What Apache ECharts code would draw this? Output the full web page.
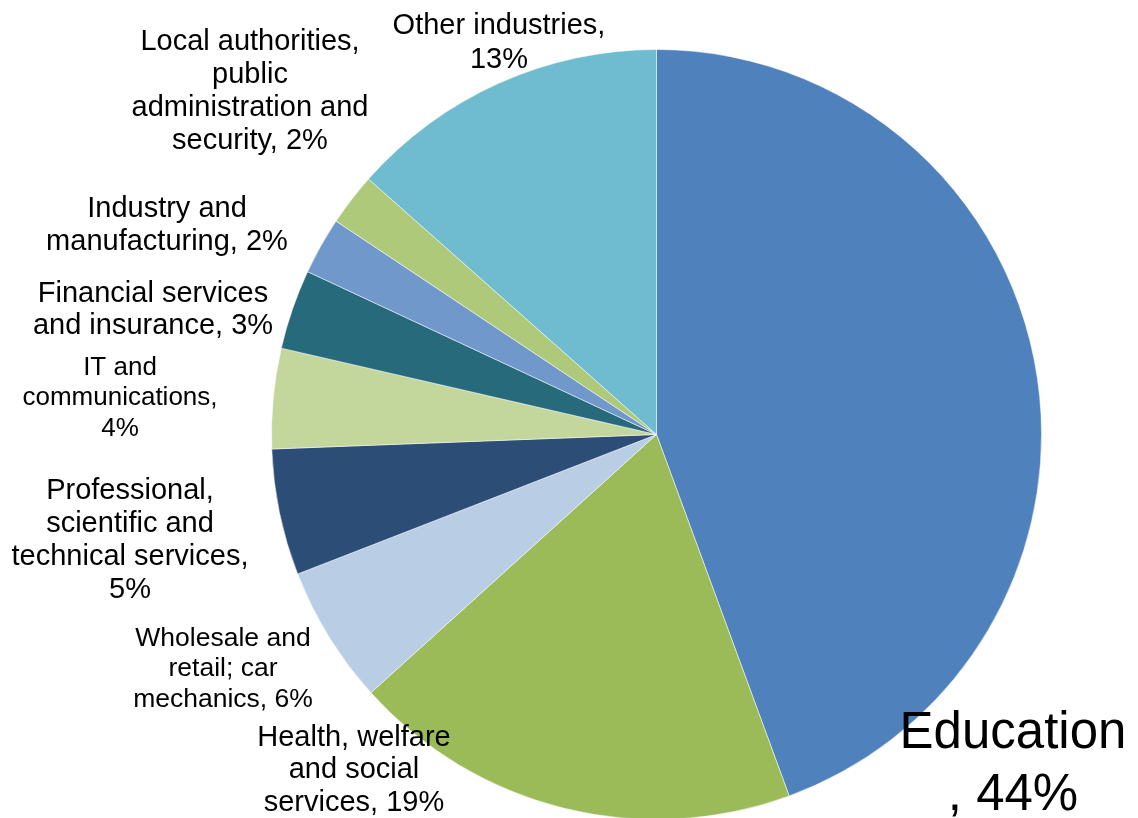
<!DOCTYPE html>
<html>
<head>
<meta charset="utf-8">
<script src="https://cdn.jsdelivr.net/npm/echarts@6/dist/echarts.min.js"></script>
<style>
  html, body { margin: 0; padding: 0; background: #fff; }
  #chart { width: 1138px; height: 818px; }
</style>
</head>
<body>
<div id="chart"></div>
<script>
// categories, clockwise from 12 o'clock
const sectors = [
  'Education',
  'Health, welfare and social services',
  'Wholesale and retail; car mechanics',
  'Professional, scientific and technical services',
  'IT and communications',
  'Financial services and insurance',
  'Industry and manufacturing',
  'Local authorities, public administration and security',
  'Other industries'
]
// share in %
const shares = [44.4, 18.9, 5.8, 5.3, 4.2, 3.35, 2.4, 2.2, 13.45]
// label text as wrapped in the picture, {p} = rounded share
const labelText = [
  'Education\n, {p}%',
  'Health, welfare\nand social\nservices, {p}%',
  'Wholesale and\nretail; car\nmechanics, {p}%',
  'Professional,\nscientific and\ntechnical services,\n{p}%',
  'IT and\ncommunications,\n{p}%',
  'Financial services\nand insurance, {p}%',
  'Industry and\nmanufacturing, {p}%',
  'Local authorities,\npublic\nadministration and\nsecurity, {p}%',
  'Other industries,\n{p}%'
]
const colors = ['#4f81bd', '#9bbb59', '#b9cde5', '#2c4d75', '#c3d69b', '#276a7c', '#7098ca', '#afc97a', '#6fbbd0']

// label placement (centre of text block) and font size
const labelPos = [
  [1013, 765], [354, 770], [223, 669], [130, 540], [120, 398],
  [153, 310], [167, 225], [250, 91], [499, 43]
]
const labelSize = [51, 29, 26.5, 29, 26, 29, 29, 29, 29]
const labelLh = [61.5, 32.5, 30.5, 33, 30.5, 32.5, 33, 33, 34]

const chart = echarts.init(document.getElementById('chart'))

const option = {
  animation: false,
  color: colors,
  series: [
    {
      type: 'pie',
      center: [656.5, 434.5],
      radius: 385,
      startAngle: 90,
      clockwise: true,
      avoidLabelOverlap: false,
      itemStyle: { borderColor: '#ffffff', borderWidth: 0.5 },
      label: {
        show: true,
        position: 'outside',
        color: '#000',
        fontFamily: 'Liberation Sans, Arial, sans-serif',
        formatter: p => labelText[p.dataIndex].replace('{p}', Math.round(p.value))
      },
      labelLine: { show: false },
      labelLayout: p => ({
        x: labelPos[p.dataIndex][0],
        y: labelPos[p.dataIndex][1],
        align: 'center',
        verticalAlign: 'middle'
      }),
      data: sectors.map((name, i) => ({
        name: name,
        value: shares[i],
        label: { fontSize: labelSize[i], lineHeight: labelLh[i] }
      }))
    }
  ]
}

chart.setOption(option)
</script>
</body>
</html>
